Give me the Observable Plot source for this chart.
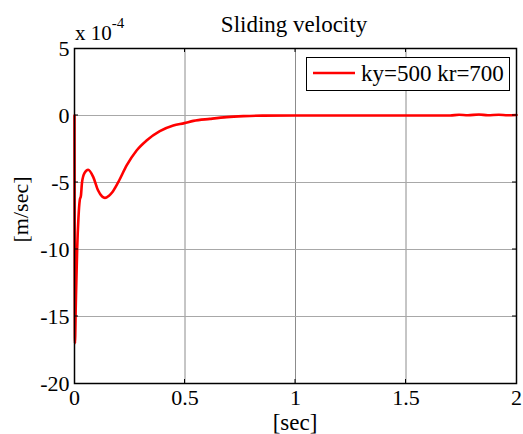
<!DOCTYPE html>
<html>
<head>
<meta charset="utf-8">
<script src="https://cdn.jsdelivr.net/npm/d3@7"></script>
<script src="https://cdn.jsdelivr.net/npm/@observablehq/plot@0.6"></script>
<style>
  html, body { margin: 0; padding: 0; background: #fff; }
  svg { display: block; }
  svg text, svg tspan { font-family: "Liberation Serif", "Times New Roman", Times, "DejaVu Serif", serif !important; }
</style>
</head>
<body>
<div id="chart"></div>
<script>
// time [sec]
const time = [0, 0.002, 0.006, 0.012, 0.018, 0.024, 0.029, 0.034, 0.045, 0.062, 0.085, 0.107, 0.125, 0.138, 0.155, 0.170, 0.198, 0.236, 0.281, 0.326, 0.386, 0.447, 0.497, 0.538, 0.613, 0.689, 0.764, 0.85, 1.0, 1.5, 1.70, 1.74, 1.78, 1.83, 1.87, 1.92, 1.96, 2.0];
// sliding velocity [m/sec] x 1e-4
const velocity = [0, -17.0, -14.0, -10.0, -7.6, -6.3, -6.0, -5.0, -4.3, -4.05, -4.6, -5.6, -6.05, -6.15, -6.0, -5.75, -4.98, -3.73, -2.61, -1.87, -1.17, -0.75, -0.57, -0.40, -0.25, -0.12, -0.05, -0.01, 0, 0, 0, 0.06, 0.02, 0.07, 0.02, 0.06, 0.02, 0.04];
const xTicks = [0, 0.5, 1, 1.5, 2];
const yTicks = [5, 0, -5, -10, -15, -20];
const seriesLabel = "ky=500 kr=700";
const titleText = "Sliding velocity";
const xLabel = "[sec]";
const yLabel = "[m/sec]";

const data = time.map((t, i) => ({t, v: velocity[i]}));

const plot = Plot.plot({
  width: 523,
  height: 434,
  marginLeft: 74,
  marginRight: 7,
  marginTop: 48,
  marginBottom: 51,
  style: {fontSize: "22px", color: "#000", background: "#fff", fontFamily: "Liberation Serif"},
  x: {domain: [0, 2], ticks: xTicks},
  y: {domain: [-20, 5], ticks: yTicks},
  marks: [
    Plot.gridX(xTicks.slice(1, -1), {stroke: "#8c8c8c", strokeOpacity: 1, strokeWidth: 1}),
    Plot.gridY(yTicks.slice(1, -1), {stroke: "#a8a8a8", strokeOpacity: 1, strokeWidth: 1}),
    Plot.line(data, {x: "t", y: "v", stroke: "#ff0000", strokeWidth: 2.6, curve: "monotone-x"}),
    Plot.frame({stroke: "#000", strokeWidth: 1.5}),
    Plot.axisX(xTicks, {tickSize: 0, tickPadding: 6, label: null, fontSize: 22, tickFormat: d => String(d)}),
    Plot.axisY(yTicks, {tickSize: 0, tickPadding: 5, label: null, fontSize: 22, tickFormat: d => String(d)})
  ]
});

const svg = d3.select(plot);
const xs = plot.scale("x"), ys = plot.scale("y");
const x0 = xs.apply(0), x1 = xs.apply(2), y0 = ys.apply(-20), y1 = ys.apply(5);

// inward ticks on all four sides (MATLAB box style)
const tg = svg.append("g").attr("stroke", "#000").attr("stroke-width", 1);
xTicks.slice(1, -1).forEach(t => {
  const px = xs.apply(t);
  tg.append("line").attr("x1", px).attr("x2", px).attr("y1", y0).attr("y2", y0 - 4);
  tg.append("line").attr("x1", px).attr("x2", px).attr("y1", y1).attr("y2", y1 + 4);
});
yTicks.slice(1, -1).forEach(t => {
  const py = ys.apply(t);
  tg.append("line").attr("y1", py).attr("y2", py).attr("x1", x0).attr("x2", x0 + 4);
  tg.append("line").attr("y1", py).attr("y2", py).attr("x1", x1).attr("x2", x1 - 4);
});

function txt(x, y, s, size, anchor) {
  return svg.append("text").attr("x", x).attr("y", y)
    .attr("text-anchor", anchor).style("text-anchor", anchor)
    .attr("font-size", size).style("font-size", size + "px")
    .attr("fill", "#000").text(s);
}

// title
txt((x0 + x1) / 2 - 1, 32, titleText, 23, "middle");

// exponent "x 10^-4"
const ex = txt(75, 40, "x 10", 21, "start");
ex.append("tspan").attr("dy", -12).style("font-size", "15px").text("-4");

// axis labels
txt((x0 + x1) / 2, 430, xLabel, 23, "middle");
svg.append("text").attr("transform", `translate(28, ${(y0 + y1) / 2 - 6}) rotate(-90)`)
  .style("text-anchor", "middle").style("font-size", "22px")
  .attr("fill", "#000").text(yLabel);

// legend
const lg = svg.append("g");
lg.append("rect").attr("x", 306.5).attr("y", 57.5).attr("width", 203).attr("height", 33)
  .attr("fill", "#fff").attr("stroke", "#000").attr("stroke-width", 1);
lg.append("line").attr("x1", 313).attr("x2", 355).attr("y1", 73).attr("y2", 73)
  .attr("stroke", "#ff0000").attr("stroke-width", 2.6);
txt(361, 81, seriesLabel, 23, "start");

document.getElementById("chart").appendChild(plot);
</script>
</body>
</html>
